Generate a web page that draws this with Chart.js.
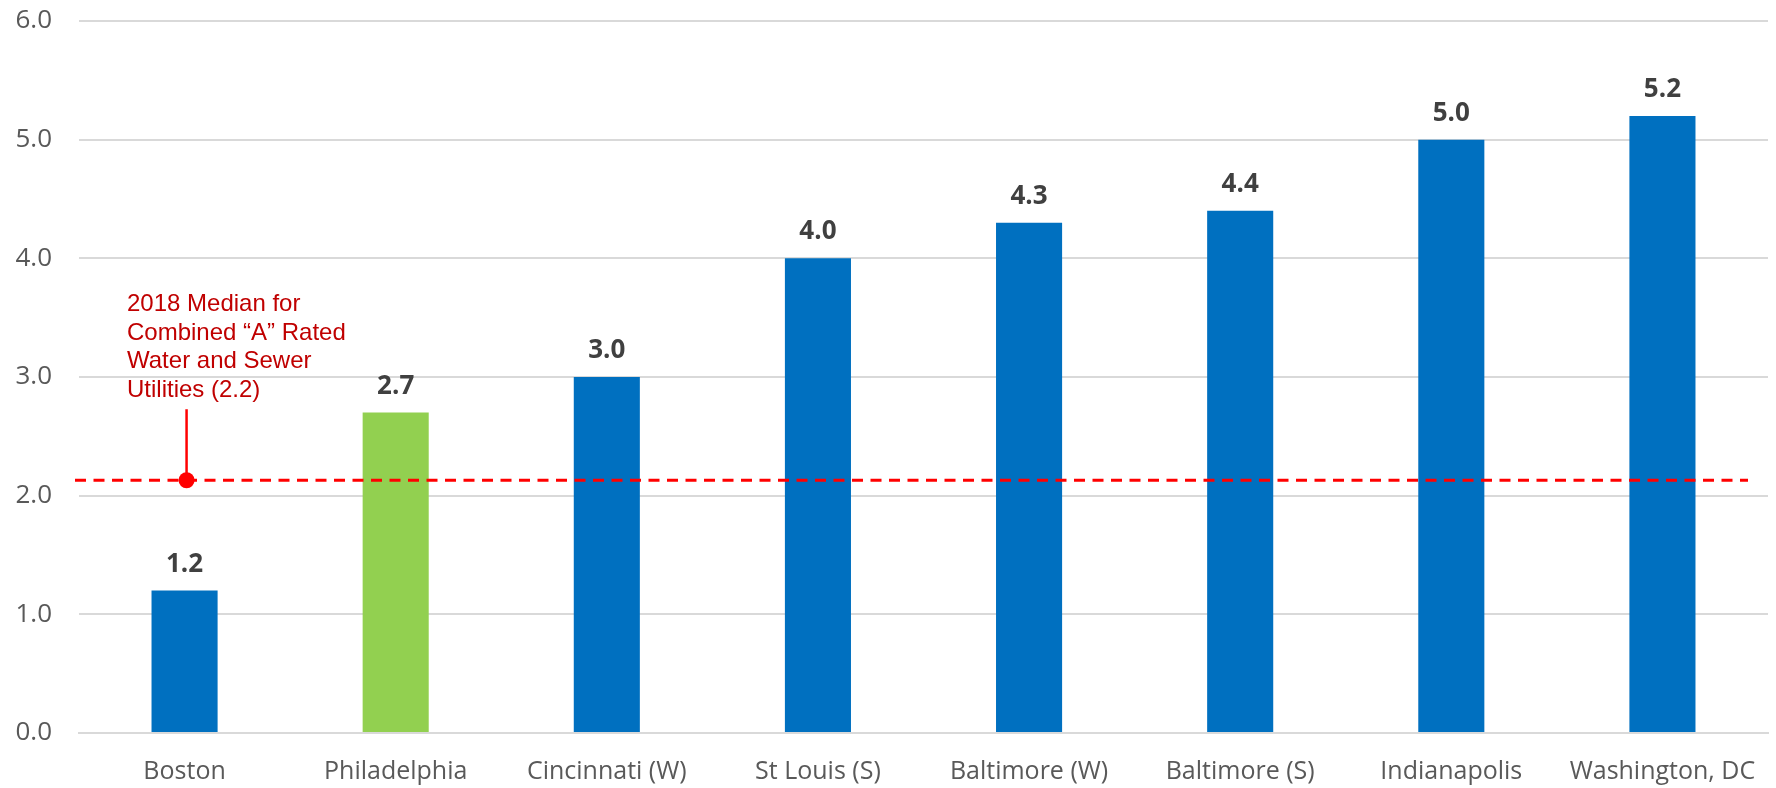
<!DOCTYPE html>
<html>
<head>
<meta charset="utf-8">
<script src="https://cdn.jsdelivr.net/npm/chart.js@4/dist/chart.umd.min.js"></script>
<style>
  html, body { margin: 0; padding: 0; background: #ffffff; }
  #wrap { width: 1776px; height: 788px; position: relative; }
</style>
</head>
<body>
<div id="wrap"><canvas id="c"></canvas></div>
<script>
const categories = ["Boston", "Philadelphia", "Cincinnati (W)", "St Louis (S)", "Baltimore (W)", "Baltimore (S)", "Indianapolis", "Washington, DC"];
const values = [1.2, 2.7, 3.0, 4.0, 4.3, 4.4, 5.0, 5.2];
const barColors = ["#0070C0", "#92D050", "#0070C0", "#0070C0", "#0070C0", "#0070C0", "#0070C0", "#0070C0"];
const yTicks = [0, 1, 2, 3, 4, 5, 6];
const medianValue = 2.13;
const medianAnchorIndex = 0;
const medianLabelLines = ["2018 Median for", "Combined \u201CA\u201D Rated", "Water and Sewer", "Utilities (2.2)"];

const overlayPlugin = {
  id: 'overlay',
  afterDatasetsDraw(chart) {
    const ctx = chart.ctx;
    const xs = chart.scales.x, ys = chart.scales.y;
    const area = chart.chartArea;
    ctx.save();
    // median dashed line
    const my = ys.getPixelForValue(medianValue);
    ctx.strokeStyle = '#FF0000';
    ctx.lineWidth = 3;
    ctx.setLineDash([11, 7.5]);
    ctx.beginPath();
    ctx.moveTo(area.left - 4, my);
    ctx.lineTo(area.right - 20, my);
    ctx.stroke();
    ctx.setLineDash([]);
    // callout
    const ax = xs.getPixelForValue(medianAnchorIndex) + 2;
    ctx.lineWidth = 2.5;
    ctx.beginPath();
    ctx.moveTo(ax, my - 71);
    ctx.lineTo(ax, my);
    ctx.stroke();
    ctx.fillStyle = '#FF0000';
    ctx.beginPath();
    ctx.arc(ax, my, 8, 0, Math.PI * 2);
    ctx.fill();
    // callout text
    ctx.fillStyle = '#C00000';
    ctx.font = '24px "Liberation Sans", Arial, sans-serif';
    ctx.textAlign = 'left';
    ctx.textBaseline = 'alphabetic';
    medianLabelLines.forEach((t, i) => {
      ctx.fillText(t, 127, my - 169 + i * 28.6);
    });
    // data labels
    const meta = chart.getDatasetMeta(0);
    ctx.fillStyle = '#404040';
    ctx.font = 'bold 26px "Open Sans", sans-serif';
    ctx.textAlign = 'center';
    meta.data.forEach((bar, i) => {
      ctx.fillText(values[i].toFixed(1), bar.x, bar.y - 19);
    });
    ctx.restore();
  }
};

new Chart(document.getElementById('c'), {
  type: 'bar',
  data: {
    labels: categories,
    datasets: [{
      data: values,
      backgroundColor: barColors,
      borderWidth: 0,
      barPercentage: 0.313,
      categoryPercentage: 1.0
    }]
  },
  options: {
    responsive: true,
    maintainAspectRatio: false,
    animation: false,
    events: [],
    layout: { padding: { left: 0, right: 8, top: 21, bottom: 0 } },
    plugins: { legend: { display: false }, tooltip: { enabled: false } },
    scales: {
      x: {
        grid: { display: false, drawTicks: false },
        border: { display: true, color: '#D9D9D9', width: 2 },
        ticks: {
          color: '#595959',
          font: { family: '"Open Sans", sans-serif', size: 25 },
          padding: 24,
          maxRotation: 0,
          autoSkip: false
        },
        afterFit(scale) { scale.height = 55; scale.paddingLeft = 0; scale.paddingRight = 0; }
      },
      y: {
        min: 0, max: 6,
        afterBuildTicks(scale) { scale.ticks = yTicks.map(v => ({ value: v })); },
        grid: { color: '#D9D9D9', lineWidth: 2, drawTicks: false },
        border: { display: false },
        ticks: {
          color: '#595959',
          font: { family: '"Open Sans", sans-serif', size: 26 },
          padding: 27,
          callback: v => Number(v).toFixed(1)
        },
        afterFit(scale) { scale.width = 79; scale.paddingTop = 0; scale.paddingBottom = 0; }
      }
    }
  },
  plugins: [overlayPlugin]
});
</script>
</body>
</html>
